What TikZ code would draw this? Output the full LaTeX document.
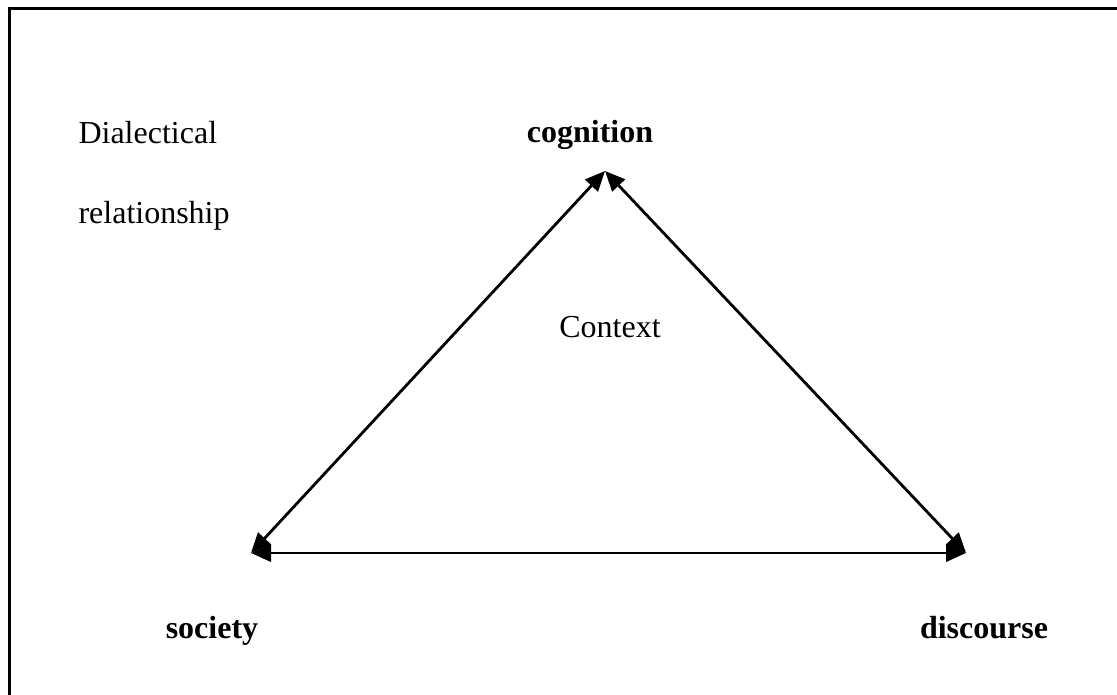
\documentclass[tikz,border=0pt]{standalone}
\usepackage{fontspec}
\setmainfont{Liberation Serif}
\usetikzlibrary{arrows.meta}
\begin{document}
\begin{tikzpicture}[x=0.375pt,y=-0.375pt,
  lbl/.style={inner sep=0pt,anchor=base,font=\fontsize{12}{14}\selectfont},
  blbl/.style={lbl,font=\fontsize{12}{14}\selectfont\bfseries},
  link/.style={line width=1.05pt,{Triangle[length=7.5pt,width=6.5pt]}-{Triangle[length=7.5pt,width=6.5pt]}}]
  \useasboundingbox (0,0) rectangle (1117,695);
  % open frame: only top and left edges
  \draw[line width=0.8pt] (9.5,695) -- (9.5,8.5) -- (1117,8.5);
  % corners of the triangle
  \coordinate (top) at (605,171);
  \coordinate (left) at (251,553);
  \coordinate (right) at (966,553);
  \draw[link] (left) -- (top);
  \draw[link] (right) -- (top);
  \draw[link] (left) -- (right);
  % labels
  \node[lbl,anchor=base west] (dia) at (78,144) {Dialectical};
  \node[lbl,anchor=base west] (rel) at (78,223) {relationship};
  \node[blbl] (cog) at (590,143) {cognition};
  \node[lbl] (ctx) at (610,337) {Context};
  \node[blbl] (soc) at (212,638) {society};
  \node[blbl] (dis) at (984,638) {discourse};
\end{tikzpicture}
\end{document}
